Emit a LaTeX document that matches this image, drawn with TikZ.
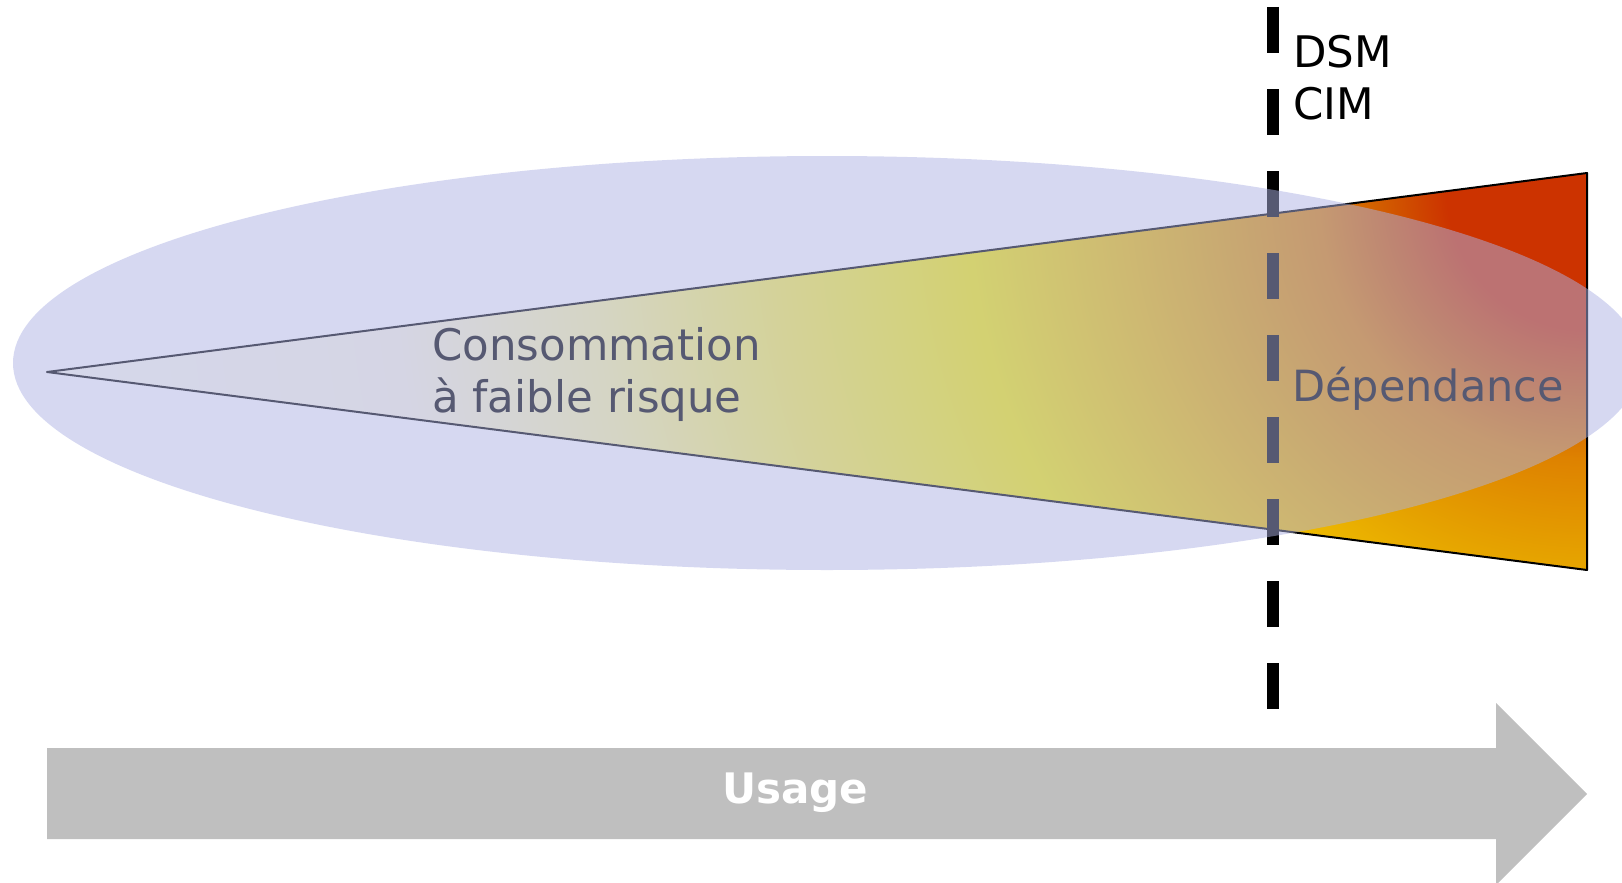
\documentclass[tikz,border=0pt]{standalone}
\usepackage{fontspec}
\setmainfont{DejaVu Sans}
\definecolor{g0}{RGB}{204,51,0}
\definecolor{g1}{RGB}{210,95,0}
\definecolor{g2}{RGB}{222,130,0}
\definecolor{g3}{RGB}{230,165,0}
\definecolor{g4}{RGB}{240,192,0}
\definecolor{g5}{RGB}{250,242,0}
\definecolor{g6}{RGB}{252,244,80}
\definecolor{g7}{RGB}{255,250,165}
\definecolor{g8}{RGB}{255,250,230}
\definecolor{g9}{RGB}{255,255,245}
\definecolor{ellcol}{RGB}{173,178,228}
\definecolor{arrowgray}{RGB}{191,191,191}
\pgfdeclareradialshading{triradial}{\pgfpoint{0bp}{0bp}}{%
color(0bp)=(g0); color(2.2bp)=(g0); color(3.3bp)=(g1); color(4.2bp)=(g2);
color(5.9bp)=(g3); color(7.2bp)=(g4); color(9.7bp)=(g5); color(12.8bp)=(g6);
color(15.6bp)=(g7); color(18.8bp)=(g8); color(25bp)=(g9); color(50bp)=(g9)}
\tikzset{
  bigtext/.style={font=\fontsize{43.5}{52}\selectfont, text=black, inner sep=0pt, anchor=base west},
  usagetext/.style={font=\fontsize{42}{50}\selectfont\bfseries, text=white, inner sep=0pt, anchor=base},
  triline/.style={draw=black, line width=2pt, line join=round},
  cutline/.style={draw=black, line width=12pt, dash pattern=on 46pt off 36pt},
  halo/.style={fill=ellcol, opacity=0.5},
  usagearrow/.style={fill=arrowgray}
}
\begin{document}
\begin{tikzpicture}[x=1pt,y=-1pt]
\useasboundingbox (0,0) rectangle (1622,883);
\coordinate (tip) at (47,372);
\coordinate (tr) at (1587,173);
\coordinate (br) at (1587,570);
\coordinate (gc) at (1587,190);
% gradient triangle
\begin{scope}
  \clip (tip) -- (tr) -- (br) -- cycle;
  \shade[shading=triradial] (gc) ++(-1600,-1600) rectangle ++(3200,3200);
\end{scope}
\path[triline] (tip) -- (tr) -- (br) -- cycle;
% dashed cut line
\coordinate (ctop) at (1273,7);
\coordinate (cbot) at (1273,711);
\path[cutline] (ctop) -- (cbot);
% texts
\node[bigtext] (dsm) at (1293,67) {DSM};
\node[bigtext] (cim) at (1293,119) {CIM};
\node[bigtext] (cons1) at (432,360) {Consommation};
\node[bigtext] (cons2) at (432,412) {à faible risque};
\node[bigtext, font=\fontsize{43}{52}\selectfont] (dep) at (1292,401) {Dépendance};
% ellipse overlay
\path[halo] (827,363) ellipse [x radius=814, y radius=207];
% usage arrow
\path[usagearrow] (47,748) -- (1496,748) -- (1496,703) -- (1587,794) -- (1496,885) -- (1496,839) -- (47,839) -- cycle;
\node[usagetext] (usage) at (795,803) {Usage};
\end{tikzpicture}
\end{document}
